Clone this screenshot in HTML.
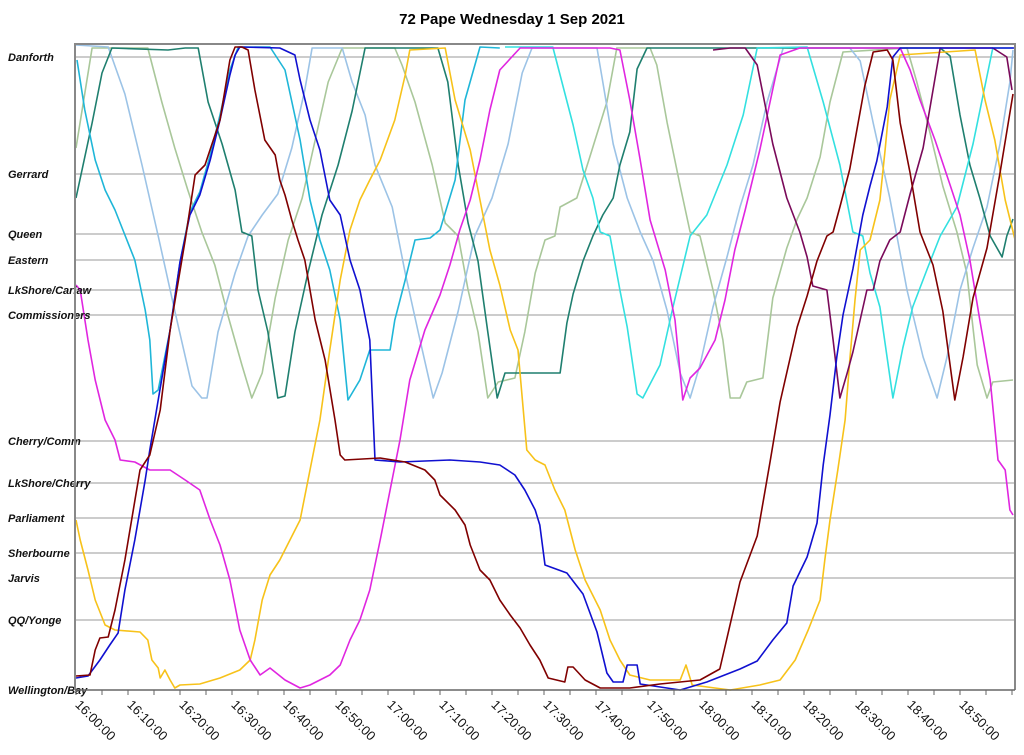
<!DOCTYPE html>
<html><head><meta charset="utf-8"><style>
html,body{margin:0;padding:0;background:#fff;}
svg{display:block;font-family:"Liberation Sans",Arial,sans-serif;}
</style></head><body>
<svg id="chart" width="1024" height="755" viewBox="0 0 1024 755" xmlns="http://www.w3.org/2000/svg">
<text x="512" y="24" text-anchor="middle" font-size="15" font-weight="bold">72 Pape Wednesday 1 Sep 2021</text>
<g id="grid"></g><g id="series"></g><g id="axes"></g>
</svg>
<script>
const stopNames=["Wellington/Bay","QQ/Yonge","Jarvis","Sherbourne","Parliament","LkShore/Cherry","Cherry/Comm","Commissioners","LkShore/Carlaw","Eastern","Queen","Gerrard","Danforth"];
const stopPos=[0,70,112,137,172,207,249,375,400,430,456,516,633];
const tickLabels=["16:00:00","16:10:00","16:20:00","16:30:00","16:40:00","16:50:00","17:00:00","17:10:00","17:20:00","17:30:00","17:40:00","17:50:00","18:00:00","18:10:00","18:20:00","18:30:00","18:40:00","18:50:00"];
const tickMinutes=[0,10,20,30,40,50,60,70,80,90,100,110,120,130,140,150,160,170];
const maroonT=[0,2.7,3.7,4.6,6.2,7.5,9.4,12.3,14.2,16.2,18.1,21,22.9,24.8,27.7,29.6,30.6,31.9,33.1,34.4,36.3,38.3,39.2,40.2,41.5,42.7,44,46,47.9,49.8,50.8,51.7,58.5,63.3,67.1,69,70,72.9,74.8,75.8,77.7,79.6,81.5,83.5,85.4,87.3,89.2,90.8,94,94.6,95.6,97.9,100.8,106.5,112.3,120,123.8,127.7,131,133.5,135.4,138.7,140.6,142.5,144.4,145.6,146.9,148.8,151.7,153.3,156,157.1,158.5,160.4,162.3,164.8,166.7,169,170.6,172.5,175.2,177.7,180.2];
const maroonV=[14,15,40,52,53,80,130,220,235,280,360,450,515,525,570,630,643,643,640,600,550,535,510,495,470,450,430,370,330,270,235,230,232,228,220,210,195,180,165,145,120,110,90,75,62,45,30,12,8,23,23,10,2,2,6,10,21,108,154,229,288,363,394,429,454,458,483,521,604,638,640,630,567,517,458,425,379,290,333,392,442,517,596];
const blueT=[0,2.3,4.6,6.5,8.1,9.4,11.3,13.3,14.2,15.8,18.1,20,21.9,23.8,25.8,27.7,29.6,30.6,31.5,39.2,42.1,43.1,45,46.9,48.8,50.8,52.7,54.6,56.5,57.5,62.3,71.9,77.7,81.5,84.4,86.3,88.3,89.2,90.2,94.4,97.5,100.2,102.1,103.3,105.2,106,107.9,108.5,116.2,121.3,127.7,131,134,136.7,137.9,140.6,142.5,143.7,145,146.3,147.5,149.4,151.3,152.7,154,156,157.1,158.5,180.6];
const blueV=[12,14,30,45,57,100,150,210,240,290,360,428,475,495,530,570,615,635,643,642,635,610,570,540,490,475,430,400,350,230,228,230,228,225,215,200,180,165,125,117,96,58,17,8,8,25,25,6,0,8,21,29,50,67,104,133,167,225,275,333,375,421,475,504,529,583,633,642,642];
const goldT=[0,0.8,2.3,3.7,5.6,7.5,12.3,13.8,14.6,15.8,16.2,17.1,18.1,19,20,23.8,27.7,31.5,33.5,34.4,35.8,37.3,39.2,43.1,45,46.9,48.8,50.8,52.7,54.6,56.5,58.5,61.3,63.3,64.2,71,72.9,75.8,77.7,79.6,81.5,83.5,85,86.7,88.3,90.2,92.1,94,96,97.9,100.8,102.7,104.6,106.5,110.4,116.2,117.3,118.5,125.8,131.5,135.4,138.3,140.8,143.1,144,145,146.5,147.9,148.8,149.8,150.8,152.7,154.6,155.6,156.5,158.5,172.9,174.8,176.7,178.7,180.6];
const goldV=[170,150,120,90,65,60,58,50,30,22,12,20,10,2,5,6,12,20,30,50,90,115,130,170,220,270,340,410,460,490,510,530,570,615,640,642,590,540,490,440,405,360,340,240,230,225,200,180,140,110,80,50,30,15,10,10,25,5,0,5,10,30,60,90,130,170,220,270,330,390,440,450,490,540,590,635,640,590,550,490,450];
const magentaT=[0,0.8,2.3,3.7,5.6,7.5,8.5,11.3,14.2,18.1,21,23.8,25.8,27.7,29.6,31.5,33.5,35.4,37.3,40.2,43.1,45,48.8,50.8,52.7,54.6,56.5,58.5,60.4,62.3,64.2,67.1,70,71.9,73.8,75.8,77.7,79.6,81.5,85.4,102.7,104.6,106.5,108.5,110.4,113.3,115.2,116.7,118.1,120,122.9,124.8,126.7,128.7,131.5,135.4,139.2,158.5,160.4,162.3,165.2,168.1,170,171.9,173.8,175.8,177.3,178.7,179.6,180.2];
const magentaV=[405,400,350,310,270,250,230,228,220,220,210,200,170,145,110,60,30,15,22,10,2,5,15,25,50,70,100,150,200,250,310,360,395,425,460,490,530,580,620,642,642,640,590,530,470,420,370,290,312,322,350,390,440,480,540,635,642,642,620,590,550,505,475,430,370,310,230,220,180,175];
const cyanT=[0.2,1.7,3.7,5.6,7.5,9.4,11.3,13.3,14.2,14.8,15.8,18.1,20,21.9,23.8,25.8,27.7,29.6,31.2,37.3,40.2,43.1,45,46.9,48.8,50.8,52.3,54.6,56.5,60.4,61.3,63.3,65.2,68.1,70,72.9,74.8,77.7,81.5];
const cyanV=[630,580,530,500,480,455,430,380,350,296,300,360,428,478,498,535,575,620,643,643,620,550,490,450,420,370,290,310,340,340,370,410,450,452,460,510,590,643,642];
const aquaT=[82.5,91.7,95.6,97.5,99.4,100.8,102.7,104.6,106,107.9,109,112.3,114.8,118.1,121.3,125.2,128.3,131,140.6,143.7,146.9,149.4,151.3,152.7,154.6,157.1,159,160.9,163.7,166.2,169.4,172.5,176.3,180.2];
const aquaV=[643,643,565,520,492,458,454,400,363,296,292,325,383,454,475,525,575,642,643,588,525,458,454,417,383,292,342,383,421,454,483,546,642,642];
const lightBlueT=[0,6.2,9.4,12.7,15.8,19,22.3,24.2,25.2,27.3,30.6,33.1,35.8,38.8,41.5,44,45.4,51.2,53.1,55.6,57.5,60.8,63.3,65.8,68.7,70.4,73.5,76.7,80,83.1,85.8,87.7,100.2,101.3,103.3,106,108.5,111,113.7,116.2,118.1,120,122.5,125.2,127.7,130.2,132.9,136,148.8,150.8,153.3,156.5,159.8,162.9,165.6,167.5,170,172.5,175.2,177.7,179.6,180.2];
const lightBlueV=[645,643,596,525,454,379,304,292,292,358,417,454,475,496,542,600,642,642,608,575,525,483,417,358,292,317,379,454,492,546,617,642,642,608,546,492,458,429,379,317,292,325,383,433,483,525,588,642,642,629,567,492,400,333,292,333,400,442,483,546,608,640];
const lightGreenT=[0,3.1,13.8,16.5,19,21.5,24.2,26.7,29.2,31.9,33.8,35.8,38.3,40.8,43.5,46,48.5,51.2,61.3,62.7,65.2,68.5,71,73.5,75.4,77.3,79.2,81.2,84.4,86.3,88.3,90.2,92.1,93.1,96.3,98.8,102.1,104,110.4,111.7,113.7,116.2,118.1,120,122.5,124.4,125.8,127.7,129,132.1,134,136.7,138.7,140.6,143.1,145,147.5,159.8,161.7,164.2,166.7,169.4,171.3,173.3,175.2,176.3,180.2];
const lightGreenV=[542,642,642,588,542,500,458,425,375,325,292,317,392,450,492,550,608,642,642,625,588,525,467,454,400,358,292,308,312,358,417,450,454,483,492,533,588,642,642,625,567,504,458,454,400,350,292,292,308,312,392,442,471,492,533,588,638,642,608,558,504,458,417,325,292,308,310];
const tealT=[0,3.1,5,6.9,17.7,21,23.5,25.4,28.1,30.6,31.9,33.8,35,36.9,38.8,40.2,42.1,44.6,47.3,50.4,53.1,55.6,69.6,71.5,73.5,75.4,77.3,79.2,81,82.5,93.1,94.4,95.6,97.5,99.4,101.3,103.3,104.6,106.5,107.9,109.8,166.2,168.1,170,171.9,173.8,175.8,178.1,179,180.2];
const tealV=[492,567,617,642,640,642,642,588,546,500,458,454,400,358,292,294,358,417,475,525,579,642,642,608,525,467,429,358,292,317,317,367,396,429,454,475,492,525,558,621,642,642,634,575,525,492,454,433,454,471];
const purpleT=[122.5,125.8,128.7,131,134,136.7,139.2,140.6,141.7,144.4,145.6,146.9,148.3,149.4,152.1,153.3,154.6,156.5,158.5,160.4,162.9,166.2,176.3,179,180];
const purpleV=[640,642,642,625,546,492,458,433,404,400,350,292,317,338,400,400,429,450,458,496,542,642,642,633,600];

const X0=75,X1=1015,Y0=44,Y1=690;
function xs(t){return 76+5.2*t;}
function ys(v){return 690-v;}
const NS="http://www.w3.org/2000/svg";
function mk(tag,attrs,parent){const e=document.createElementNS(NS,tag);for(const k in attrs)e.setAttribute(k,attrs[k]);parent.appendChild(e);return e;}
const grid=document.getElementById('grid'),axes=document.getElementById('axes'),ser=document.getElementById('series');
stopPos.forEach((p,i)=>{
  const l=mk('line',{x1:X0,x2:X1,y1:ys(p),y2:ys(p),stroke:'#9a9a9a','stroke-width':1},grid);
  
  
  const t=mk('text',{x:8,y:ys(p)+4,'font-size':11,'font-weight':'bold','font-style':'italic',fill:'#111'},axes);
  t.textContent=stopNames[i];
  
  
});
const frame=mk('path',{d:`M${X0},${Y1} V${Y0} H${X1} V${Y1}`,fill:'none',stroke:'#888','stroke-width':2},axes);


const xax=mk('line',{x1:X0,x2:X1,y1:Y1,y2:Y1,stroke:'#666','stroke-width':1.5},axes);


for(let m=0;m<=180;m+=5){
  const tk=mk('line',{x1:xs(m),x2:xs(m),y1:Y1,y2:Y1+5,stroke:'#666','stroke-width':1},axes);
  
  
}
tickLabels.forEach((lab,i)=>{
  const x=xs(tickMinutes[i])+2;
  const t=mk('text',{x:x,y:707,'font-size':13,fill:'#111',transform:`rotate(45 ${x} 702)`},axes);
  t.textContent=lab;
  
  
});
const seriesList=[
 ['light-green',lightGreenT,lightGreenV,'#a9c79a'],
 ['light-blue',lightBlueT,lightBlueV,'#9cc3e6'],
 ['teal',tealT,tealV,'#1f7f6f'],
 ['cyan',cyanT,cyanV,'#1fb6d8'],
 ['aqua',aquaT,aquaV,'#33e0e0'],
 ['gold',goldT,goldV,'#f7c21a'],
 ['magenta',magentaT,magentaV,'#e026e0'],
 ['purple',purpleT,purpleV,'#7a0a5a'],
 ['blue',blueT,blueV,'#1010d0'],
 ['maroon',maroonT,maroonV,'#800000']
];
seriesList.forEach(s=>{
  const pts=s[1].map((t,i)=>xs(t).toFixed(1)+','+ys(s[2][i]).toFixed(1)).join(' ');
  const pl=mk('polyline',{points:pts,fill:'none',stroke:s[3],'stroke-width':1.6,'stroke-linejoin':'round'},ser);
  
  
});
</script>
</body></html>
